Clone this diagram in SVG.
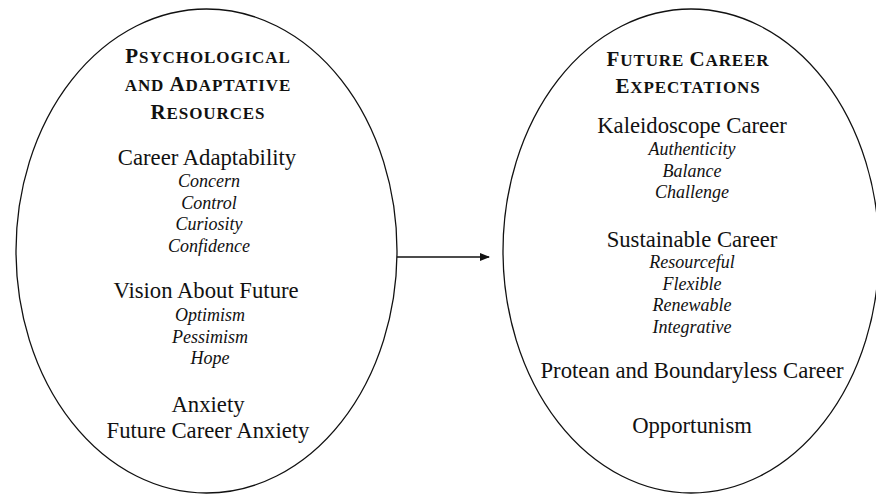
<svg xmlns="http://www.w3.org/2000/svg" width="876" height="495" viewBox="0 0 876 495">
<style>
text{font-family:"Liberation Serif","Times New Roman",serif;fill:#111;text-anchor:middle}
.h{font-weight:bold;letter-spacing:0.9px}
.big{font-size:21px}
.sm{font-size:17px}
.t{font-size:22.7px}
.i{font-size:18px;font-style:italic}
.shape{fill:#fff;stroke:#111;stroke-width:1.3}
</style>
<defs>
<marker id="ah" markerWidth="10" markerHeight="8" refX="9" refY="4" orient="auto" markerUnits="userSpaceOnUse">
<path d="M0,0 L10,4 L0,8 Z" fill="#111"/>
</marker>
</defs>
<rect width="876" height="495" fill="#fff"/>
<g id="left">
<ellipse class="shape" cx="206.5" cy="251" rx="190.5" ry="242"/>
<text class="h" x="208" y="63"><tspan class="big">P</tspan><tspan class="sm">SYCHOLOGICAL</tspan></text>
<text class="h" x="208" y="91"><tspan class="sm">AND </tspan><tspan class="big">A</tspan><tspan class="sm">DAPTATIVE</tspan></text>
<text class="h" x="208" y="119"><tspan class="big">R</tspan><tspan class="sm">ESOURCES</tspan></text>
<text class="t" x="207" y="165">Career Adaptability</text>
<text class="i" x="209" y="187">Concern</text>
<text class="i" x="209" y="208.5">Control</text>
<text class="i" x="209" y="230">Curiosity</text>
<text class="i" x="209" y="251.5">Confidence</text>
<text class="t" x="206" y="298">Vision About Future</text>
<text class="i" x="210" y="321">Optimism</text>
<text class="i" x="210" y="342.5">Pessimism</text>
<text class="i" x="210" y="364">Hope</text>
<text class="t" x="208" y="412">Anxiety</text>
<text class="t" x="208" y="438">Future Career Anxiety</text>
</g>
<g id="right">
<ellipse class="shape" cx="691" cy="251" rx="188" ry="242"/>
<text class="h" x="688" y="66"><tspan class="big">F</tspan><tspan class="sm">UTURE </tspan><tspan class="big">C</tspan><tspan class="sm">AREER</tspan></text>
<text class="h" x="688" y="93"><tspan class="big">E</tspan><tspan class="sm">XPECTATIONS</tspan></text>
<text class="t" x="692" y="133">Kaleidoscope Career</text>
<text class="i" x="692" y="155">Authenticity</text>
<text class="i" x="692" y="176.5">Balance</text>
<text class="i" x="692" y="198">Challenge</text>
<text class="t" x="692" y="247">Sustainable Career</text>
<text class="i" x="692" y="268">Resourceful</text>
<text class="i" x="692" y="289.5">Flexible</text>
<text class="i" x="692" y="311">Renewable</text>
<text class="i" x="692" y="332.5">Integrative</text>
<text class="t" x="692" y="378">Protean and Boundaryless Career</text>
<text class="t" x="692" y="433">Opportunism</text>
</g>
<g id="connectors">
<line x1="397" y1="257" x2="489" y2="257" stroke="#111" stroke-width="1.3" marker-end="url(#ah)"/>
</g>
</svg>
